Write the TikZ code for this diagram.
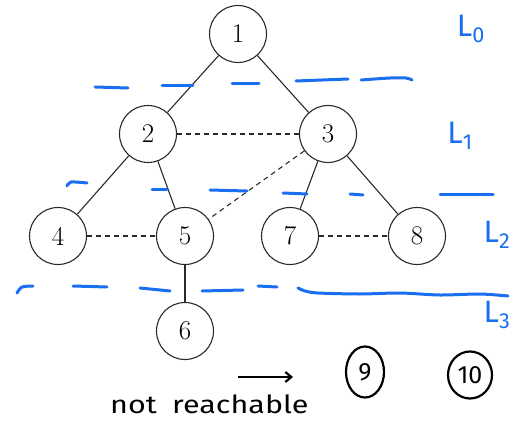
\documentclass[tikz,border=0pt]{standalone}
\usepackage{fontspec}
\newfontfamily\handfont{Fira Sans}
\usetikzlibrary{shapes.geometric,arrows.meta}
\definecolor{penblue}{HTML}{1A6FF0}
\definecolor{edgegray}{HTML}{2A2A2A}
\tikzset{
  vertex/.style={circle,draw=edgegray,line width=1.1pt,minimum size=57pt,inner sep=0pt,
    font=\fontsize{27}{27}\selectfont},
  treeedge/.style={draw=edgegray,line width=1.1pt},
  crossedge/.style={draw=edgegray,line width=1.1pt,dash pattern=on 5pt off 4pt},
  hand/.style={draw=penblue,line width=3pt,line cap=round,line join=round},
  levellabel/.style={text=penblue,font=\handfont\fontsize{31}{31}\selectfont,inner sep=0pt},
  inked/.style={draw=black,line width=2.2pt},
  inktext/.style={font=\handfont\fontsize{25}{25}\selectfont,inner sep=0pt},
}
\begin{document}
\begin{tikzpicture}[x=1pt,y=-1pt]
\useasboundingbox (0,0) rectangle (526,422);
% vertices
\node[vertex] (n1) at (238,34) {1};
\node[vertex] (n2) at (148,134) {2};
\node[vertex] (n3) at (328,134) {3};
\node[vertex] (n4) at (58,236) {4};
\node[vertex] (n5) at (185,236) {5};
\node[vertex] (n7) at (290,236) {7};
\node[vertex] (n8) at (417,236) {8};
\node[vertex] (n6) at (185,331) {6};
% tree edges
\draw[treeedge] (n1) -- (n2);
\draw[treeedge] (n1) -- (n3);
\draw[treeedge] (n2) -- (n4);
\draw[treeedge] (n2) -- (n5);
\draw[treeedge] (n3) -- (n7);
\draw[treeedge] (n3) -- (n8);
\draw[treeedge] (n5) -- (n6);
% non-tree edges
\draw[crossedge] (n2) -- (n3);
\draw[crossedge] (n4) -- (n5);
\draw[crossedge] (n7) -- (n8);
\draw[crossedge] (n3) -- (n5);
% level separators
\draw[hand] (95,87) -- (128,88);
\draw[hand] (162,86) -- (193,86);
\draw[hand] (232,84) -- (259,84);
\draw[hand] (296,81) -- (348,79);
\draw[hand] plot[smooth] coordinates {(361,80) (390,78) (406,78) (412,80)};
\draw[hand] plot[smooth] coordinates {(67,186) (71,182) (87,183)};
\draw[hand] (152,189) -- (167,189);
\draw[hand] (210,190) -- (247,191);
\draw[hand] (283,193) -- (307,194);
\draw[hand] (350,194) -- (363,195);
\draw[hand] (440,194) -- (493,194);
\draw[hand] plot[smooth] coordinates {(17,293) (22,287) (33,286)};
\draw[hand] (73,286) -- (107,287);
\draw[hand] (140,288) -- (170,291);
\draw[hand] (202,291) -- (243,290);
\draw[hand] (258,286) -- (277,287);
\draw[hand] plot[smooth] coordinates {(298,288) (305,291) (318,293) (360,294) (400,293) (440,295) (480,294) (508,296)};
% level labels
\node[levellabel] (l0) at (471,29) {L\textsubscript{0}};
\node[levellabel] (l1) at (460,136) {L\textsubscript{1}};
\node[levellabel] (l2) at (497,235) {L\textsubscript{2}};
\node[levellabel] (l3) at (497,315) {L\textsubscript{3}};
% unreachable vertices
\node[inked,ellipse,minimum width=38pt,minimum height=51pt,inner sep=0pt,inktext] (n9) at (365,372) {9};
\node[inked,ellipse,minimum width=44pt,minimum height=47pt,inner sep=0pt,inktext] (n10) at (470,375) {10};
\node[inktext,anchor=west,xscale=1.22] (nr) at (110,404) {not\hspace{0.5em}reachable};
\coordinate (arrowstart) at (238,377);
\coordinate (arrowend) at (293,377);
\draw[inked,-{Straight Barb[length=6pt,width=10pt]}] (arrowstart) -- (arrowend);
\end{tikzpicture}
\end{document}
